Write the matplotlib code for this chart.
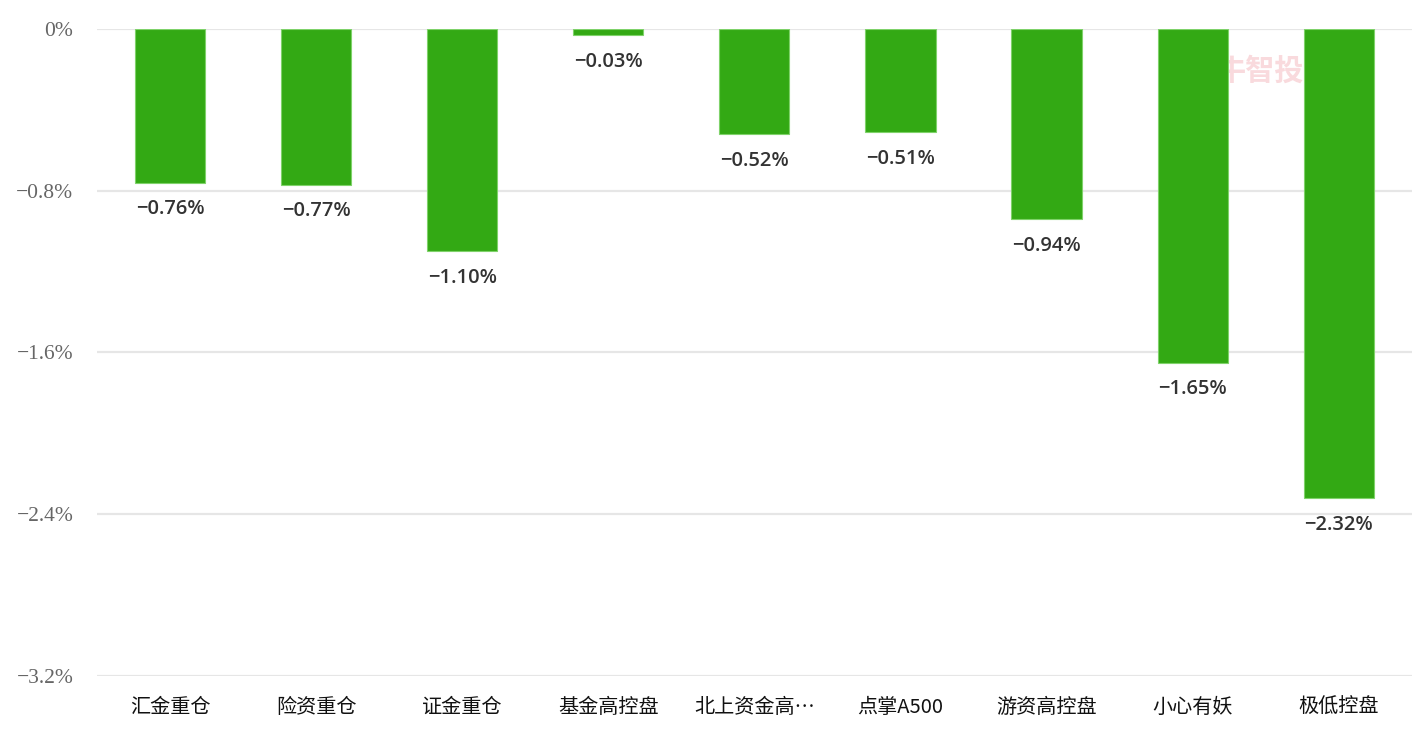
import matplotlib.pyplot as plt
from matplotlib.ticker import FuncFormatter

# chart data
categories = ['汇金重仓', '险资重仓', '证金重仓', '基金高控盘', '北上资金高…',
              '点掌A500', '游资高控盘', '小心有妖', '极低控盘']
changes = [-0.76, -0.77, -1.10, -0.03, -0.52, -0.51, -0.94, -1.65, -2.32]
y_ticks = [0, -0.8, -1.6, -2.4, -3.2]

bar_color = '#33a914'

plt.rcParams['font.family'] = ['Noto Sans CJK SC', 'DejaVu Sans']

fig = plt.figure(figsize=(14.26, 7.33), dpi=100)
ax = fig.add_axes([0.068, 0.0778, 0.922, 0.8826])

# watermark, sits behind the bars
ax.text(0.918, 0.936, '牛智投', transform=ax.transAxes, ha='right', va='center',
        fontsize=21, color='#f9dadd', fontweight='bold', zorder=0)

x = list(range(len(categories)))
bars = ax.bar(x, changes, width=0.48, color=bar_color, edgecolor='#7fd26a',
              linewidth=0.8, zorder=2)

for xi, v in zip(x, changes):
    label = f'{v:.2f}%'.replace('-', '\u2212')
    ax.annotate(label, (xi, v), xytext=(0, -12), textcoords='offset points',
                ha='center', va='top', fontsize=14.5, color='#333333',
                family=['Open Sans', 'DejaVu Sans'], fontweight='semibold')

ax.set_xlim(-0.5, len(categories) - 0.5)
ax.set_ylim(-3.2, 0)
ax.set_yticks(y_ticks)


def pct(v, pos):
    if v == 0:
        return '0%'
    return f'{v:.1f}%'.replace('-', '\u2212')


ax.yaxis.set_major_formatter(FuncFormatter(pct))
ax.set_xticks(x)
ax.set_xticklabels(categories, fontsize=14.5, color='#111111')

for lab in ax.get_yticklabels():
    lab.set_family(['Liberation Serif', 'DejaVu Serif'])
    lab.set_fontsize(15.5)
    lab.set_color('#666666')

ax.grid(axis='y', color='#e6e6e6', linewidth=1.6, zorder=0)
ax.set_axisbelow(True)
for side in ['top', 'right', 'left', 'bottom']:
    ax.spines[side].set_visible(False)
ax.tick_params(axis='both', length=0)
ax.tick_params(axis='x', pad=15)
ax.tick_params(axis='y', pad=17)

fig.savefig('out.png', dpi=100)
